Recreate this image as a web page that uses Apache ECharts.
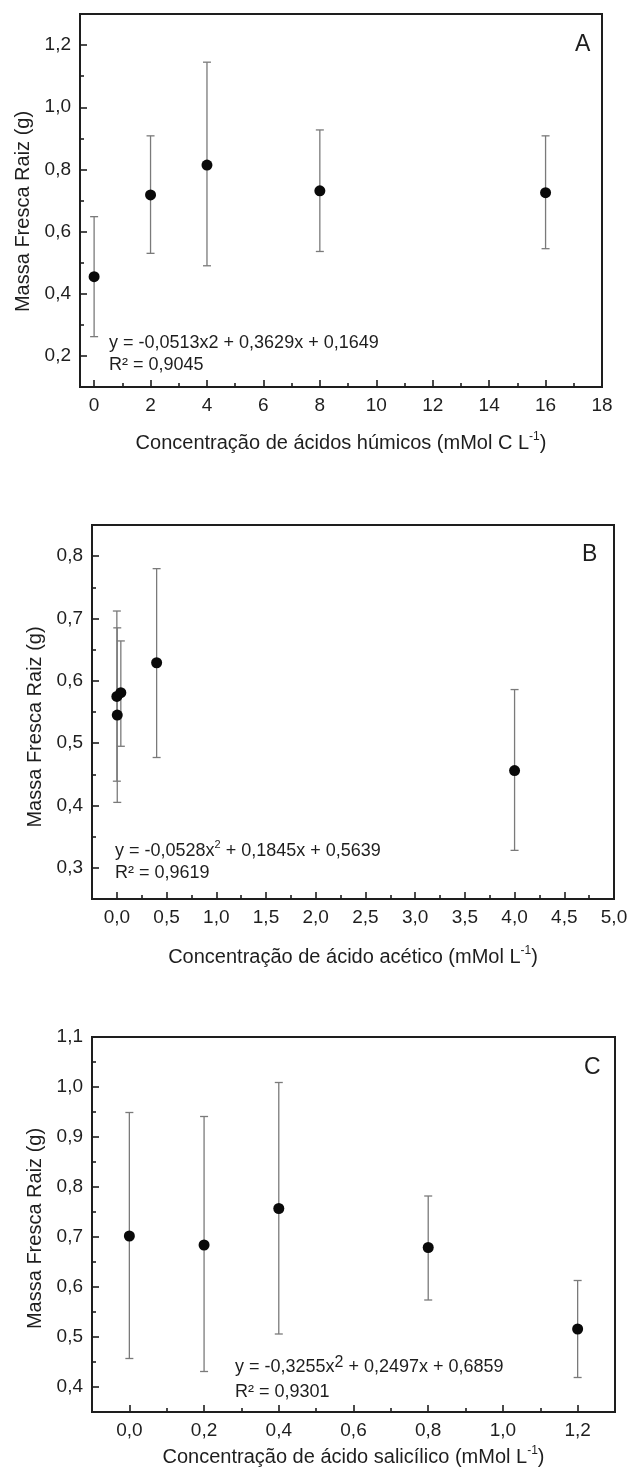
<!DOCTYPE html>
<html>
<head>
<meta charset="utf-8">
<title>Massa Fresca Raiz</title>
<script src="https://cdn.jsdelivr.net/npm/echarts@6/dist/echarts.min.js"></script>
<style>
  html, body { margin: 0; padding: 0; background: #fff; }
  #chart { width: 632px; height: 1479px; }
</style>
</head>
<body>
<div id="chart"></div>
<script>
// A - ácidos húmicos
const humicX = [0, 2, 4, 8, 16];
const humicMean = [0.455, 0.718, 0.814, 0.731, 0.725];
const humicLow = [0.262, 0.530, 0.490, 0.536, 0.545];
const humicHigh = [0.648, 0.908, 1.145, 0.927, 0.908];
const humicXTicks = [0, 2, 4, 6, 8, 10, 12, 14, 16, 18];
const humicXMinor = [1, 3, 5, 7, 9, 11, 13, 15, 17];
const humicYTicks = [0.2, 0.4, 0.6, 0.8, 1.0, 1.2];
const humicYMinor = [0.3, 0.5, 0.7, 0.9, 1.1];

// B - ácido acético
const aceticX = [0, 0.004, 0.04, 0.4, 4];
const aceticMean = [0.575, 0.545, 0.581, 0.629, 0.456];
const aceticLow = [0.439, 0.405, 0.495, 0.477, 0.328];
const aceticHigh = [0.712, 0.685, 0.664, 0.780, 0.586];
const aceticXTicks = [0, 0.5, 1.0, 1.5, 2.0, 2.5, 3.0, 3.5, 4.0, 4.5, 5.0];
const aceticXMinor = [0.25, 0.75, 1.25, 1.75, 2.25, 2.75, 3.25, 3.75, 4.25, 4.75];
const aceticYTicks = [0.3, 0.4, 0.5, 0.6, 0.7, 0.8];
const aceticYMinor = [0.35, 0.45, 0.55, 0.65, 0.75];

// C - ácido salicílico
const salicX = [0, 0.2, 0.4, 0.8, 1.2];
const salicMean = [0.702, 0.684, 0.757, 0.679, 0.516];
const salicLow = [0.457, 0.431, 0.506, 0.574, 0.419];
const salicHigh = [0.949, 0.941, 1.009, 0.782, 0.613];
const salicXTicks = [0, 0.2, 0.4, 0.6, 0.8, 1.0, 1.2];
const salicXMinor = [0.1, 0.3, 0.5, 0.7, 0.9, 1.1];
const salicYTicks = [0.4, 0.5, 0.6, 0.7, 0.8, 0.9, 1.0, 1.1];
const salicYMinor = [0.45, 0.55, 0.65, 0.75, 0.85, 0.95, 1.05];

const font = '"Liberation Sans", Arial, sans-serif';
const ink = "#1e1e1e";
const yTitle = "Massa Fresca Raiz (g)";

const comma = (d) => (v) => v.toFixed(d).replace(".", ",");

const panels = [
  {
    grid: { left: 80, top: 14, width: 522, height: 373 },
    x: humicX, mean: humicMean, low: humicLow, high: humicHigh,
    xMin: -0.5, xMax: 18, yMin: 0.1, yMax: 1.3,
    xTicks: humicXTicks, xMinor: humicXMinor, yTicks: humicYTicks, yMinor: humicYMinor,
    xFmt: comma(0), yFmt: comma(1),
    xName: "Concentração de ácidos húmicos (mMol C L{sup|-1})", xGap: 44,
    yGap: 44, yShift: 11,
  },
  {
    grid: { left: 92, top: 525, width: 522, height: 374 },
    x: aceticX, mean: aceticMean, low: aceticLow, high: aceticHigh,
    xMin: -0.25, xMax: 5, yMin: 0.25, yMax: 0.85,
    xTicks: aceticXTicks, xMinor: aceticXMinor, yTicks: aceticYTicks, yMinor: aceticYMinor,
    xFmt: comma(1), yFmt: comma(1),
    xName: "Concentração de ácido acético (mMol L{sup|-1})", xGap: 46,
    yGap: 47, yShift: 15,
  },
  {
    grid: { left: 92, top: 1037, width: 523, height: 375 },
    x: salicX, mean: salicMean, low: salicLow, high: salicHigh,
    xMin: -0.1, xMax: 1.3, yMin: 0.35, yMax: 1.1,
    xTicks: salicXTicks, xMinor: salicXMinor, yTicks: salicYTicks, yMinor: salicYMinor,
    xFmt: comma(1), yFmt: comma(1),
    xName: "Concentração de ácido salicílico (mMol L{sup|-1})", xGap: 33,
    yGap: 47, yShift: 4,
  },
];

const lineStyle = { color: ink, width: 1.6 };
const nameStyle = {
  fontSize: 20, color: ink, fontFamily: font, lineHeight: 24,
  rich: { sup: { fontSize: 12, lineHeight: 10, verticalAlign: "top", color: ink, fontFamily: font } },
};
const tickFont = { fontSize: 19, color: ink, fontFamily: font };

const xAxis = [];
const yAxis = [];
const series = [];

panels.forEach((p, i) => {
  xAxis.push({
    type: "value", gridIndex: i, position: "bottom", min: p.xMin, max: p.xMax,
    name: p.xName, nameLocation: "middle", nameGap: p.xGap, nameTextStyle: nameStyle,
    axisLine: { show: true, onZero: false, lineStyle: { color: ink, width: 2 } },
    axisTick: { show: true, inside: true, length: 7, customValues: p.xTicks, lineStyle },
    axisLabel: Object.assign({ customValues: p.xTicks, formatter: p.xFmt, margin: 9 }, tickFont),
    splitLine: { show: false },
  });
  xAxis.push({
    type: "value", gridIndex: i, position: "bottom", min: p.xMin, max: p.xMax,
    axisLine: { show: false, onZero: false }, axisLabel: { show: false }, splitLine: { show: false },
    axisTick: { show: true, inside: true, length: 4, customValues: p.xMinor, lineStyle },
  });
  yAxis.push({
    type: "value", gridIndex: i, position: "left", min: p.yMin, max: p.yMax,
    name: yTitle, nameLocation: "middle", nameRotate: 90, nameGap: p.yGap,
    nameTextStyle: { fontSize: 20, color: ink, fontFamily: font, padding: [0, p.yShift * 2, 0, 0] },
    axisLine: { show: true, onZero: false, lineStyle: { color: ink, width: 2 } },
    axisTick: { show: true, inside: true, length: 7, customValues: p.yTicks, lineStyle },
    axisLabel: Object.assign({ customValues: p.yTicks, formatter: p.yFmt, margin: 9 }, tickFont),
    splitLine: { show: false },
  });
  yAxis.push({
    type: "value", gridIndex: i, position: "left", min: p.yMin, max: p.yMax,
    axisLine: { show: false, onZero: false }, axisLabel: { show: false }, splitLine: { show: false },
    axisTick: { show: true, inside: true, length: 4, customValues: p.yMinor, lineStyle },
  });

  // barras de erro
  series.push({
    type: "custom",
    xAxisIndex: i * 2, yAxisIndex: i * 2,
    data: p.x.map((x, k) => [x, p.low[k], p.high[k]]),
    encode: { x: 0, y: [1, 2] },
    silent: true,
    z: 2,
    renderItem: (params, api) => {
      const x = api.value(0);
      const lo = api.coord([x, api.value(1)]);
      const hi = api.coord([x, api.value(2)]);
      const cap = 4;
      const style = { stroke: "#7a7a7a", lineWidth: 1.3, fill: null };
      return {
        type: "group",
        children: [
          { type: "line", shape: { x1: lo[0], y1: lo[1], x2: hi[0], y2: hi[1] }, style },
          { type: "line", shape: { x1: hi[0] - cap, y1: hi[1], x2: hi[0] + cap, y2: hi[1] }, style },
          { type: "line", shape: { x1: lo[0] - cap, y1: lo[1], x2: lo[0] + cap, y2: lo[1] }, style },
        ],
      };
    },
  });
  series.push({
    type: "scatter",
    xAxisIndex: i * 2, yAxisIndex: i * 2,
    data: p.x.map((x, k) => [x, p.mean[k]]),
    symbol: "circle",
    symbolSize: 11,
    itemStyle: { color: "#0a0a0a", opacity: 1 },
    silent: true,
    z: 3,
  });
});

const eqStyle = {
  fontSize: 18, fontWeight: "normal", color: ink, fontFamily: font, lineHeight: 24,
  rich: {
    sup: { fontSize: 11, lineHeight: 10, verticalAlign: "top", color: ink, fontFamily: font },
    big: { fontSize: 16, lineHeight: 16, verticalAlign: "top", color: ink, fontFamily: font },
  },
};
const letterStyle = { fontSize: 23, fontWeight: "normal", color: ink, fontFamily: font, lineHeight: 24 };

const titles = [
  { text: "A", left: 575, top: 33, textStyle: letterStyle },
  { text: "B", left: 582, top: 543, textStyle: letterStyle },
  { text: "C", left: 584, top: 1056, textStyle: letterStyle },
  { text: "y = -0,0513x2 + 0,3629x + 0,1649", left: 109, top: 331, textStyle: eqStyle },
  { text: "R² = 0,9045", left: 109, top: 353, textStyle: eqStyle },
  { text: "y = -0,0528x{sup|2} + 0,1845x + 0,5639", left: 115, top: 839, textStyle: eqStyle },
  { text: "R² = 0,9619", left: 115, top: 861, textStyle: eqStyle },
  { text: "y = -0,3255x{big|2} + 0,2497x + 0,6859", left: 235, top: 1355, textStyle: eqStyle },
  { text: "R² = 0,9301", left: 235, top: 1380, textStyle: eqStyle },
].map((t) => Object.assign({ padding: 0, itemGap: 0 }, t));

const chart = echarts.init(document.getElementById("chart"));
chart.setOption({
  backgroundColor: "#fff",
  animation: false,
  title: titles,
  grid: panels.map((p) => Object.assign({ show: true, borderColor: ink, borderWidth: 2, backgroundColor: "transparent" }, p.grid)),
  xAxis,
  yAxis,
  series,
});
</script>
</body>
</html>
